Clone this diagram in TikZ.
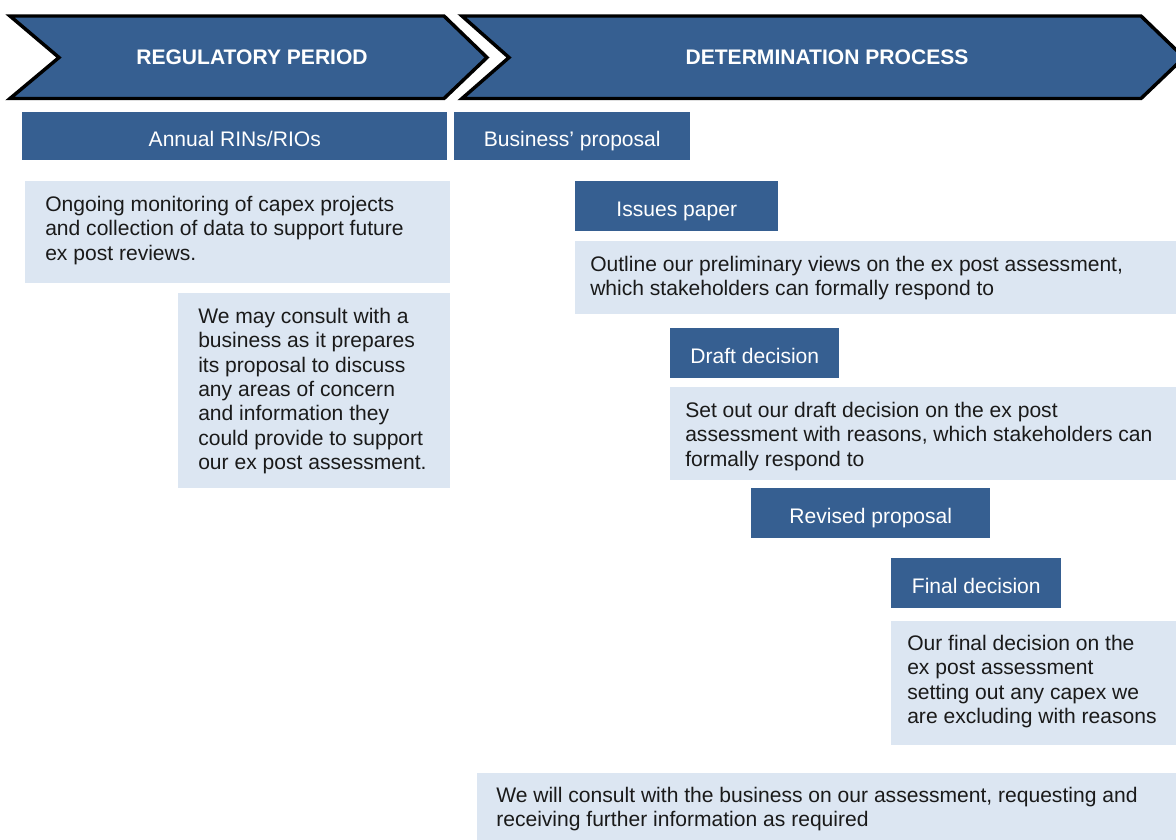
\documentclass[tikz,border=0pt]{standalone}
\usepackage{fontspec}
\setmainfont{Liberation Sans}
\definecolor{dblue}{HTML}{365F91}
\definecolor{lblue}{HTML}{DCE6F2}
\definecolor{txt}{HTML}{1A1A1A}
\newcommand\fl{\rule{0pt}{14pt}}
\begin{document}
\begin{tikzpicture}[x=0.75pt,y=-0.75pt,
  font=\fontsize{15.8pt}{18.3pt}\selectfont,
  dbox/.style={fill=dblue, text=white, inner sep=0pt, anchor=north west, text height=15.6pt, text depth=0pt},
  lbox/.style={fill=lblue, inner sep=0pt, anchor=north west},
  ltext/.style={anchor=north west, align=left, inner sep=0pt, text=txt},
  chev/.style={fill=dblue, draw=black, line width=2.6pt, line join=miter},
  htext/.style={text=white, font=\fontsize{15.8pt}{18.3pt}\selectfont\bfseries}]
\useasboundingbox (0,0) rectangle (1176,839);
\begin{scope}
\clip (0,0) rectangle (1176,839);
% chevrons
\draw[chev] (10,16) -- (444,16) -- (487,57.5) -- (444,98.5) -- (10,98.5) -- (59,57.5) -- cycle;
\draw[chev] (462,16) -- (1141,16) -- (1184,57.5) -- (1141,98.5) -- (462,98.5) -- (509,57.5) -- cycle;
\node[htext] (hreg) at (252,57) {REGULATORY PERIOD};
\node[htext] (hdet) at (827,57) {DETERMINATION PROCESS};
% dark boxes
\node[dbox, minimum width={(447-22)*0.75pt}, minimum height={(160-112)*0.75pt}] (annual) at (22,112) {Annual RINs/RIOs};
\node[dbox, minimum width={(690-454)*0.75pt}, minimum height={(160-112)*0.75pt}] (bprop) at (454,112) {Business’ proposal};
\node[dbox, minimum width={(778-575)*0.75pt}, minimum height={(231-181)*0.75pt}] (issues) at (575,181) {Issues paper};
\node[dbox, minimum width={(839-670)*0.75pt}, minimum height={(378-328)*0.75pt}] (draft) at (670,328) {Draft decision};
\node[dbox, minimum width={(990-751)*0.75pt}, minimum height={(538-488)*0.75pt}] (revised) at (751,488) {Revised proposal};
\node[dbox, minimum width={(1061-891)*0.75pt}, minimum height={(608-558)*0.75pt}] (final) at (891,558) {Final decision};
% light boxes
\node[lbox, minimum width={(450-25)*0.75pt}, minimum height={(283-181)*0.75pt}] (ongoing) at (25,181) {};
\node[lbox, minimum width={(450-178)*0.75pt}, minimum height={(488-293)*0.75pt}] (maycons) at (178,293) {};
\node[lbox, minimum width={(1180-575)*0.75pt}, minimum height={(314-241)*0.75pt}] (outline) at (575,241) {};
\node[lbox, minimum width={(1180-670)*0.75pt}, minimum height={(480-387)*0.75pt}] (setout) at (670,387) {};
\node[lbox, minimum width={(1180-891)*0.75pt}, minimum height={(745-621)*0.75pt}] (ourfinal) at (891,621) {};
\node[lbox, minimum width={(1180-477)*0.75pt}, minimum height={(842-773)*0.75pt}] (willcons) at (477,773) {};
% texts
\node[ltext] (ongoingt) at (45,192.3) {\fl Ongoing monitoring of capex projects\\and collection of data to support future\\ex post reviews.};
\node[ltext] (mayconst) at (198,304.3) {\fl We may consult with a\\business as it prepares\\its proposal to discuss\\any areas of concern\\and information they\\could provide to support\\our ex post assessment.};
\node[ltext] (outlinet) at (590,252.3) {\fl Outline our preliminary views on the ex post assessment,\\which stakeholders can formally respond to};
\node[ltext] (setoutt) at (685,398.3) {\fl Set out our draft decision on the ex post\\assessment with reasons, which stakeholders can\\formally respond to};
\node[ltext] (ourfinalt) at (907,631.3) {\fl Our final decision on the\\ex post assessment\\setting out any capex we\\are excluding with reasons};
\node[ltext] (willconst) at (496,783.3) {\fl We will consult with the business on our assessment, requesting and\\receiving further information as required};
\end{scope}
\end{tikzpicture}
\end{document}
